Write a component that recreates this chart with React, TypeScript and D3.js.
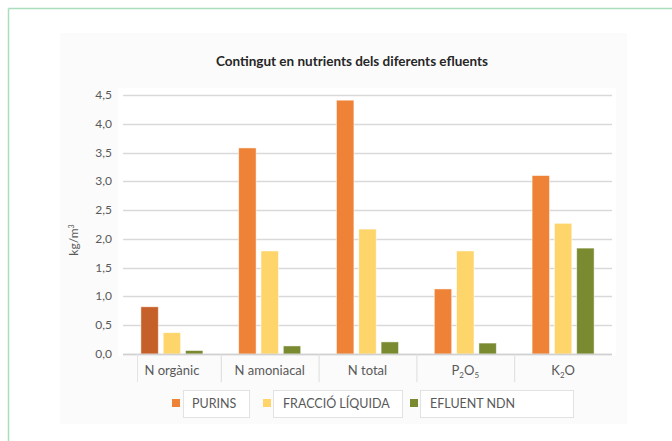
import React from "react";
import * as d3 from "d3";

const categories = ["N orgànic", "N amoniacal", "N total", "P2O5", "K2O"];
const seriesNames = ["PURINS", "FRACCIÓ LÍQUIDA", "EFLUENT NDN"];
const purins = [0.82, 3.58, 4.41, 1.13, 3.1];
const fraccioLiquida = [0.37, 1.79, 2.17, 1.79, 2.27];
const efluentNdn = [0.06, 0.14, 0.21, 0.19, 1.84];
const yTicks = [0, 0.5, 1, 1.5, 2, 2.5, 3, 3.5, 4, 4.5];

const W = 672;
const H = 441;
const colors = ["#EE8236", "#FDD56A", "#7A8A30"];
const darkOrange = "#C6602A";
const textColor = "#595959";
const font = "Lato, 'Open Sans', sans-serif";

function CatLabel({ name, x, y }: { name: string; x: number; y: number }) {
  const fs = 13;
  if (name === "P2O5") {
    return (
      <text x={x} y={y} textAnchor="middle" fontSize={fs} fill={textColor} fontFamily={font}>
        P<tspan fontSize={8} dy={3}>2</tspan>
        <tspan dy={-3}>O</tspan>
        <tspan fontSize={8} dy={3}>5</tspan>
      </text>
    );
  }
  if (name === "K2O") {
    return (
      <text x={x} y={y} textAnchor="middle" fontSize={fs} fill={textColor} fontFamily={font}>
        K<tspan fontSize={8} dy={3}>2</tspan>
        <tspan dy={-3}>O</tspan>
      </text>
    );
  }
  return (
    <text x={x} y={y} textAnchor="middle" fontSize={fs} fill={textColor} fontFamily={font}>
      {name}
    </text>
  );
}

export default function App() {
  const left = 123;
  const right = 612;
  const top = 95;
  const bottom = 354;

  const x0 = d3.scaleBand<string>().domain(categories).range([left, right]).padding(0);
  const x1 = d3
    .scaleBand<string>()
    .domain(seriesNames)
    .range([0, 62])
    .paddingInner(0.22);
  const y = d3.scaleLinear().domain([0, 4.5]).range([bottom, top]);
  const fmt = (v: number) => d3.format(".1f")(v).replace(".", ",");
  const data = [purins, fraccioLiquida, efluentNdn];
  const groupOffset = (x0.bandwidth() - 62) / 2;

  const legendItems = [
    { sq: 176, tx: 192, box: [183, 249] },
    { sq: 267, tx: 283, box: [273, 402] },
    { sq: 414, tx: 430, box: [420, 573] },
  ];

  return (
    <svg
      width={W}
      height={H}
      style={{ position: "absolute", left: 0, top: 0, background: "#ffffff" }}
    >
      <rect x={0} y={0} width={W} height={H} fill="#ffffff" />
      {/* green frame */}
      <line x1={8.5} y1={8.5} x2={W} y2={8.5} stroke="#A9DDBB" strokeWidth={1.5} />
      <line x1={8.5} y1={8.5} x2={8.5} y2={H} stroke="#A9DDBB" strokeWidth={1.5} />
      {/* chart area background */}
      <rect x={60} y={33} width={567} height={391} fill="#FBFBFB" />
      <rect x={118} y={88} width={498} height={268} fill="#FFFFFF" />

      <text
        x={352}
        y={66}
        textAnchor="middle"
        fontSize={13.5}
        fontWeight="bold"
        fill="#262626"
        fontFamily={font}
      >
        Contingut en nutrients dels diferents efluents
      </text>

      {yTicks.map((t) => (
        <g key={t}>
          <line
            x1={left}
            x2={right}
            y1={Math.round(y(t)) + 0.5}
            y2={Math.round(y(t)) + 0.5}
            stroke="#D9D9D9"
            strokeWidth={1.5}
          />
          <text
            x={112}
            y={y(t) + 4}
            textAnchor="end"
            fontSize={12}
            fill={textColor}
            fontFamily={font}
          >
            {fmt(t)}
          </text>
        </g>
      ))}

      <text
        transform={`translate(78,240) rotate(-90)`}
        textAnchor="middle"
        fontSize={12}
        fill={textColor}
        fontFamily={font}
      >
        kg/m<tspan fontSize={7} dy={-4}>3</tspan>
      </text>

      {data.map((series, si) =>
        series.map((v, ci) => {
          const xx = (x0(categories[ci]) as number) + groupOffset + (x1(seriesNames[si]) as number);
          const fill = si === 0 && ci === 0 ? darkOrange : colors[si];
          return (
            <rect
              key={`${si}-${ci}`}
              x={xx}
              y={y(v)}
              width={x1.bandwidth()}
              height={bottom - y(v)}
              fill={fill}
              stroke="#ffffff"
              strokeOpacity={0.6}
              strokeWidth={0.8}
            />
          );
        })
      )}

      <line x1={left} x2={right} y1={bottom + 0.5} y2={bottom + 0.5} stroke="#D0D0D0" strokeWidth={1.5} />

      {/* category cells */}
      {categories.map((c, i) => {
        const bx = x0(c) as number;
        return (
          <g key={c}>
            {i > 0 && (
              <line
                x1={bx + 0.5}
                x2={bx + 0.5}
                y1={bottom}
                y2={382}
                stroke="#DDDDDD"
                strokeWidth={1}
              />
            )}
            <CatLabel name={c} x={bx + x0.bandwidth() / 2} y={375} />
          </g>
        );
      })}
      <line x1={left + 14.5} x2={left + 14.5} y1={bottom} y2={382} stroke="#E4E4E4" />

      {/* legend */}
      {legendItems.map((it, i) => (
        <g key={seriesNames[i]}>
          <rect
            x={it.box[0] + 0.5}
            y={390.5}
            width={it.box[1] - it.box[0]}
            height={27}
            fill="#FFFFFF"
            stroke="#E2E2E2"
          />
          <rect x={it.sq - 4} y={399} width={8} height={8} fill={colors[i]} />
          <text x={it.tx} y={408} fontSize={12.5} fill={textColor} fontFamily={font}>
            {seriesNames[i]}
          </text>
        </g>
      ))}
    </svg>
  );
}
